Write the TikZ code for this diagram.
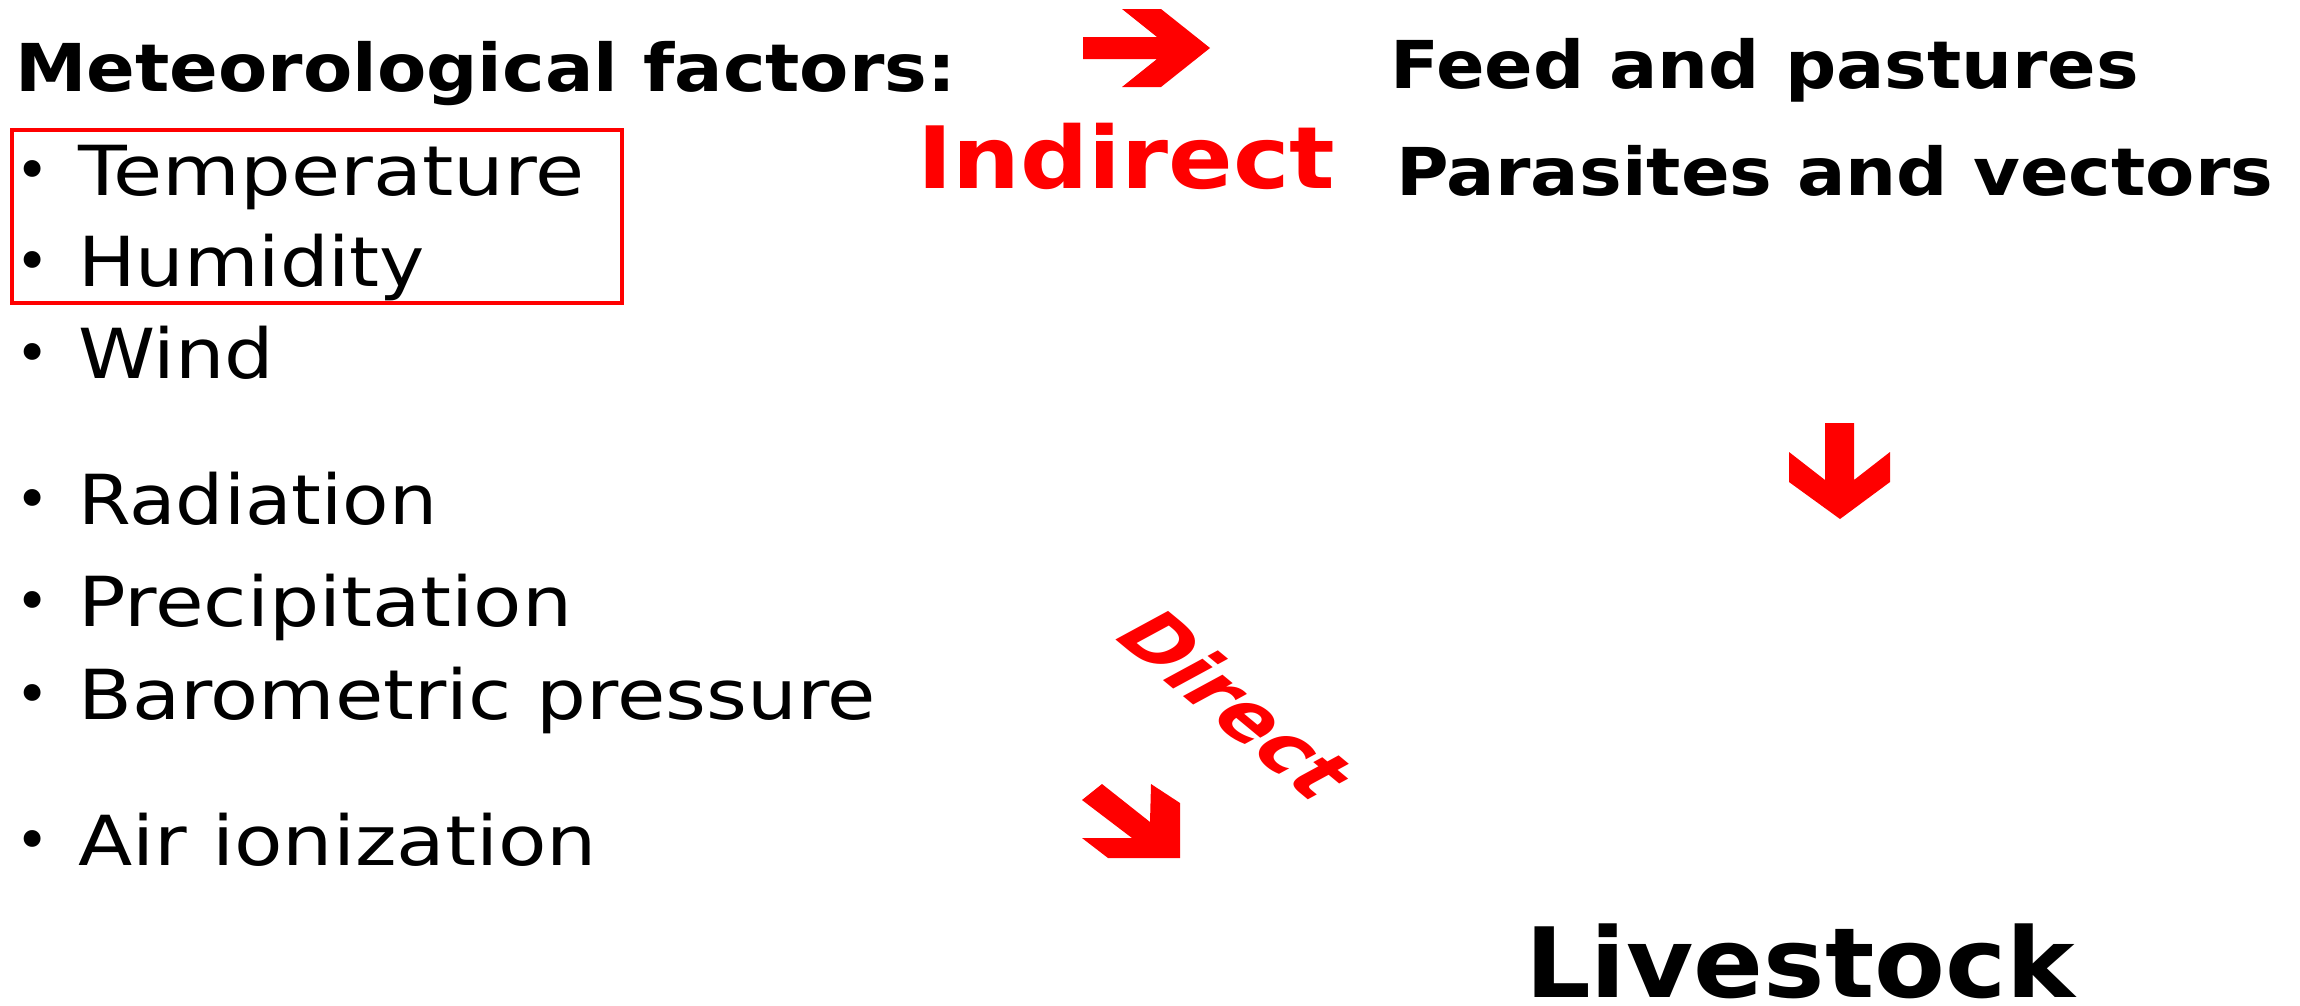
\documentclass[tikz,border=0pt]{standalone}
\usepackage{fontspec}
\setmainfont{DejaVu Sans}
\usepackage{graphicx}
\newlength\natw
\newcommand\fitx[2]{\settowidth\natw{#2}\pgfmathsetmacro\fitsx{#1/\natw}\scalebox{\fitsx}[1]{#2}}
\begin{document}
\begin{tikzpicture}[x=1pt,y=-1pt,
  reg/.style={anchor=base west, inner sep=0pt, font=\fontsize{69}{80}\selectfont},
  bul/.style={anchor=base, inner sep=0pt, font=\fontsize{58}{70}\selectfont},
  bld/.style={anchor=base west, inner sep=0pt, font=\fontsize{66}{76}\selectfont\bfseries},
  redbold/.style={inner sep=0pt, text=red, font=\fontsize{#1}{#1}\selectfont\bfseries},
  blockarrow/.style={fill=red, draw=none}]
\useasboundingbox (0,0) rectangle (2300,1005);
% headings
\node[bld] (met) at (15,91) {\fitx{941}{Meteorological factors:}};
\node[bld] (feed) at (1390,88) {\fitx{749}{Feed and pastures}};
\node[bld] (para) at (1396,195) {\fitx{877}{Parasites and vectors}};
\node[redbold=86, anchor=base west] (ind) at (917,188) {\fitx{418}{Indirect}};
\node[redbold=97, text=black, anchor=base west] (live) at (1525,997) {\fitx{550}{Livestock}};
% list
\foreach \n/\t/\b/\w in {temp/Temperature/195/506, hum/Humidity/286/347, wind/Wind/378/196,
   rad/Radiation/524/359, prec/Precipitation/626/494, baro/Barometric pressure/719/798,
   air/Air ionization/865/519}{
  \node[bul] (b\n) at (33,\b-5) {•};
  \node[reg] (\n) at (78,\b) {\fitx{\w}{\t}};
}
\draw[red, line width=4.5pt] (12,130) rectangle (622,303);
% Direct label
\begin{scope}[shift={(1237,704)}, yscale=0.67, rotate=-51]
  \node[redbold=93, transform shape] (dir) at (0,0) {\fitx{318}{Direct}};
\end{scope}
% block arrows
\fill[blockarrow] (1083,37) -- (1157,37) -- (1122,9) -- (1161,9) -- (1210,48) -- (1161,87) -- (1122,87) -- (1157,59) -- (1083,59) -- cycle;
\fill[blockarrow] (1825,423) -- (1854,423) -- (1854,480) -- (1890,452) -- (1890,482) -- (1840,519) -- (1789,482) -- (1789,452) -- (1825,480) -- cycle;
\fill[blockarrow] (1082,800) -- (1102,784) -- (1150,822) -- (1151,784) -- (1180,803) -- (1180,858) -- (1108,858) -- (1082,838) -- (1132,838) -- cycle;
\end{tikzpicture}
\end{document}
